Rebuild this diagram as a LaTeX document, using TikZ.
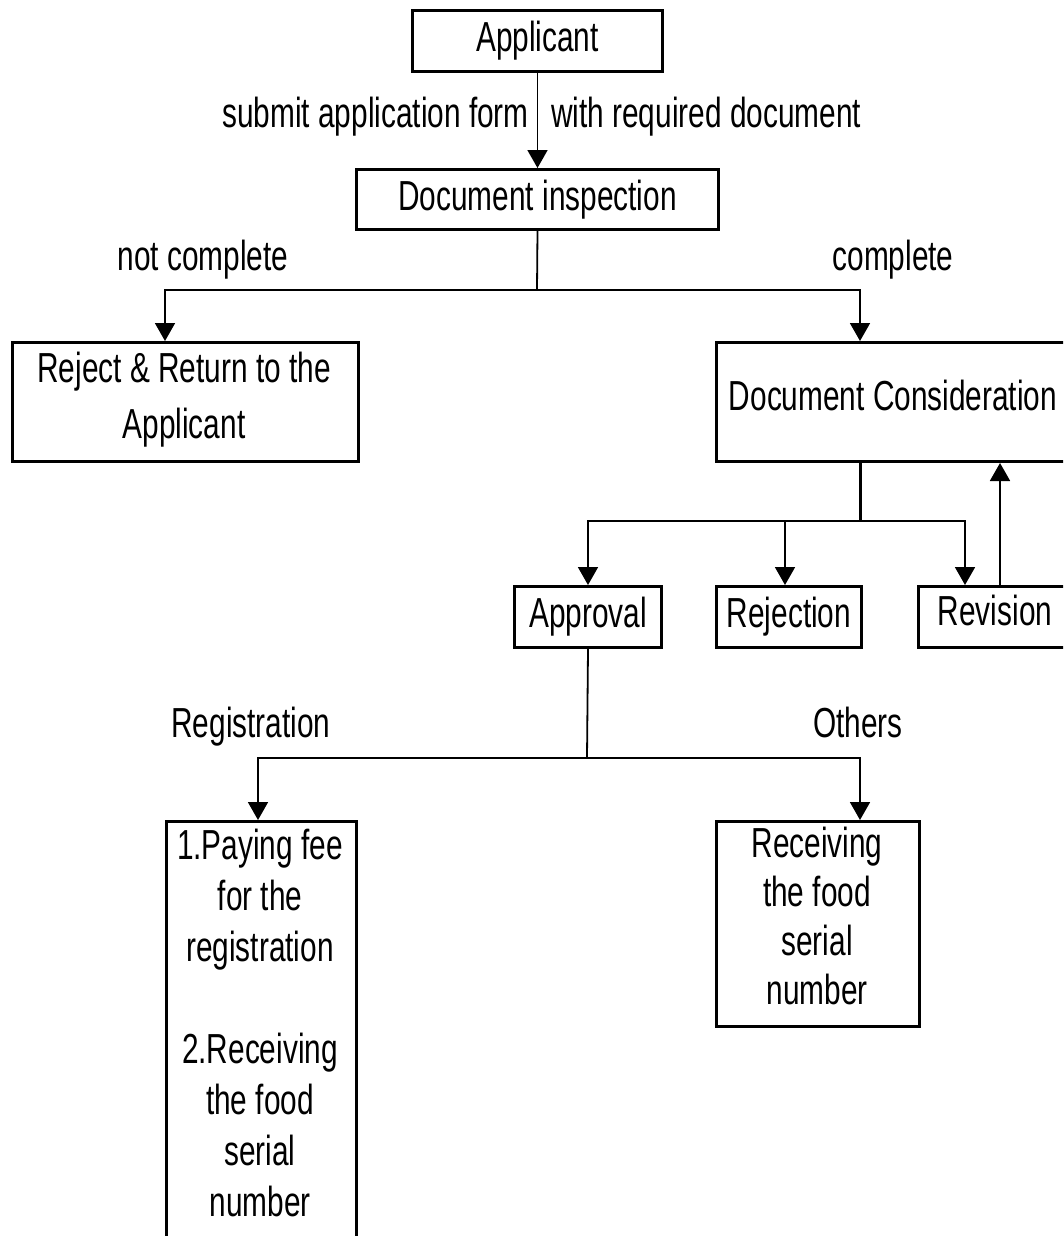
\documentclass[tikz,border=0pt]{standalone}
\usepackage{fontspec}
\setmainfont[FakeStretch=0.71]{Liberation Sans}
\usetikzlibrary{arrows.meta}
\tikzset{
  box/.style={draw, line width=3pt, inner sep=0pt, anchor=north west, font=\fontsize{42}{50}\selectfont},
  conn/.style={line width=1.8pt},
  arr/.style={conn, -{Triangle[width=20pt,length=18pt]}},
  txt/.style={font=\fontsize{42}{50}\selectfont, inner sep=0pt},
}
\begin{document}
\begin{tikzpicture}[x=1pt,y=-1pt]
\useasboundingbox (0,0) rectangle (1063,1236);
\clip (0,0) rectangle (1063,1236);
% boxes
\node[box, minimum width=250pt, minimum height=61pt] (app) at (411,9) {Applicant};
\node[box, minimum width=362pt, minimum height=60pt] (insp) at (355,168) {Document inspection};
\node[box, minimum width=346pt, minimum height=119pt] (rej) at (11,341) {};
\node[box, minimum width=360pt, minimum height=119pt] (cons) at (715,341) {};
\node[box, minimum width=147pt, minimum height=61pt] (appr) at (513,585) {Approval};
\node[box, minimum width=145pt, minimum height=61pt] (rejn) at (715,585) {Rejection};
\node[box, minimum width=160pt, minimum height=61pt] (rev) at (917,585) {};
\node[box, minimum width=190pt, minimum height=430pt] (reg) at (165,820) {};
\node[box, minimum width=203pt, minimum height=205pt] (oth) at (715,820) {};
% texts inside boxes
\node[txt, align=center, font=\fontsize{42}{56}\selectfont] (rejT) at (184,400) {Reject \& Return to the\\Applicant};
\node[txt] (consT) at (893,395) {Document Consideration};
\node[txt, anchor=base] (revT) at (995,625) {Revision};
\node[txt, align=center, anchor=north, font=\fontsize{42}{51}\selectfont] (regT) at (260,829)
  {1.Paying fee\\for the\\registration\\[51pt]2.Receiving\\the food\\serial\\number};
\node[txt, align=center, anchor=north, font=\fontsize{42}{49}\selectfont] (othT) at (817,827)
  {Receiving\\the food\\serial\\number};
% labels
\node[txt, anchor=base east] (sub1) at (529,128) {submit application form};
\node[txt, anchor=base west] (sub2) at (551,128) {with required document};
\node[txt, anchor=base] (notc) at (203,270) {not complete};
\node[txt, anchor=base] (comp) at (893,270) {complete};
\node[txt, anchor=base] (regL) at (251,737) {Registration};
\node[txt, anchor=base] (othL) at (858,737) {Others};
% junctions
\coordinate (j1) at (537,290);
\coordinate (l1) at (165,290);
\coordinate (r1) at (860,290);
\coordinate (j2) at (860,521);
\coordinate (m2) at (785,521);
\coordinate (r2) at (965,521);
\coordinate (u) at (1000,521);
\coordinate (j3) at (587,758);
\coordinate (l3) at (258,758);
\coordinate (r3) at (860,758);
% connectors
\draw[arr] (app.south) -- (insp.north);
\draw[conn] (insp.south) -- (j1);
\draw[arr] (j1) -- (l1) -- (rej.north -| l1);
\draw[arr] (j1) -- (r1) -- (cons.north -| r1);
\draw[line width=3pt] (cons.south -| j2) -- (j2);
\draw[arr] (j2) -| (appr.north);
\draw[arr] (m2) -- (rejn.north -| m2);
\draw[arr] (j2) -- (r2) -- (rev.north -| r2);
\draw[arr] (rev.north -| u) -- (cons.south -| u);
\draw[conn] (appr.south) -- (j3);
\draw[arr] (j3) -- (l3) -- (reg.north -| l3);
\draw[arr] (j3) -- (r3) -- (oth.north -| r3);
\end{tikzpicture}
\end{document}
